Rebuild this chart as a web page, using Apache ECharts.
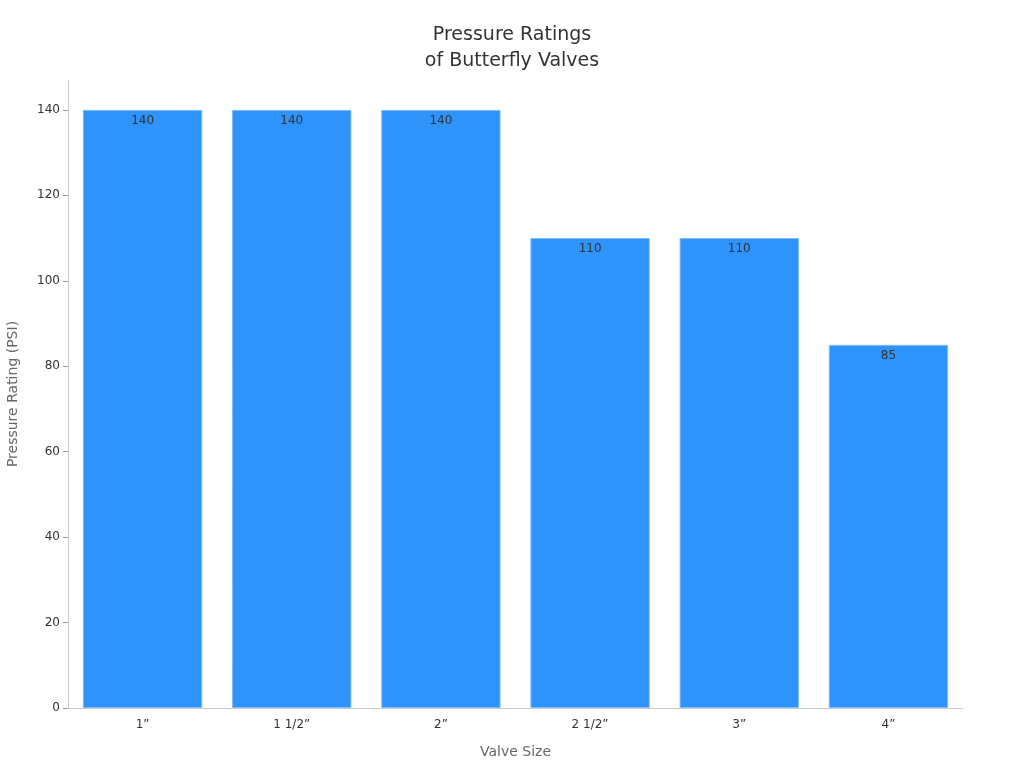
<!DOCTYPE html>
<html>
<head>
<meta charset="utf-8">
<script src="https://cdn.jsdelivr.net/npm/echarts@6/dist/echarts.min.js"></script>
<style>html,body{margin:0;padding:0;background:#fff}#c{width:1024px;height:768px}</style>
</head>
<body>
<div id="c"></div>
<script>
const categories = ['1\u201d', '1 1/2\u201d', '2\u201d', '2 1/2\u201d', '3\u201d', '4\u201d'];
const pressureValues = [140, 140, 140, 110, 110, 85];
const yTicks = [0, 20, 40, 60, 80, 100, 120, 140];

const chart = echarts.init(document.getElementById('c'), null, {renderer: 'canvas'});
chart.setOption({
  animation: false,
  textStyle: {fontFamily: 'DejaVu Sans'},
  title: {
    text: 'Pressure Ratings\nof Butterfly Valves',
    left: 'center',
    top: 17,
    textStyle: {fontSize: 19, fontWeight: 'normal', color: '#333', lineHeight: 26, fontFamily: 'DejaVu Sans'}
  },
  grid: {left: 68, right: 61, top: 80, bottom: 60, containLabel: false, outerBoundsMode: 'none'},
  xAxis: {
    type: 'category',
    data: categories,
    name: 'Valve Size',
    nameLocation: 'middle',
    nameGap: 37,
    nameTextStyle: {color: '#666', fontSize: 14},
    axisLine: {lineStyle: {color: '#ccc'}},
    axisTick: {alignWithLabel: true, lineStyle: {color: '#999'}, length: 5},
    axisLabel: {color: '#333', fontSize: 12, margin: 11}
  },
  yAxis: {
    type: 'value',
    min: 0,
    max: 147,
    interval: 20,
    name: 'Pressure Rating (PSI)',
    nameLocation: 'middle',
    nameGap: 48,
    nameTextStyle: {color: '#666', fontSize: 14},
    axisLine: {show: true, lineStyle: {color: '#ccc'}},
    axisTick: {show: true, length: 5, lineStyle: {color: '#999'}, customValues: yTicks},
    splitLine: {show: false},
    axisLabel: {color: '#333', fontSize: 12, margin: 8, customValues: yTicks}
  },
  series: [{
    type: 'bar',
    data: pressureValues,
    barWidth: '80%',
    itemStyle: {color: '#2E93FA', borderColor: '#7fbafa', borderWidth: 1},
    label: {show: true, position: 'insideTop', distance: 5, color: '#333', fontSize: 12}
  }]
});
</script>
</body>
</html>
